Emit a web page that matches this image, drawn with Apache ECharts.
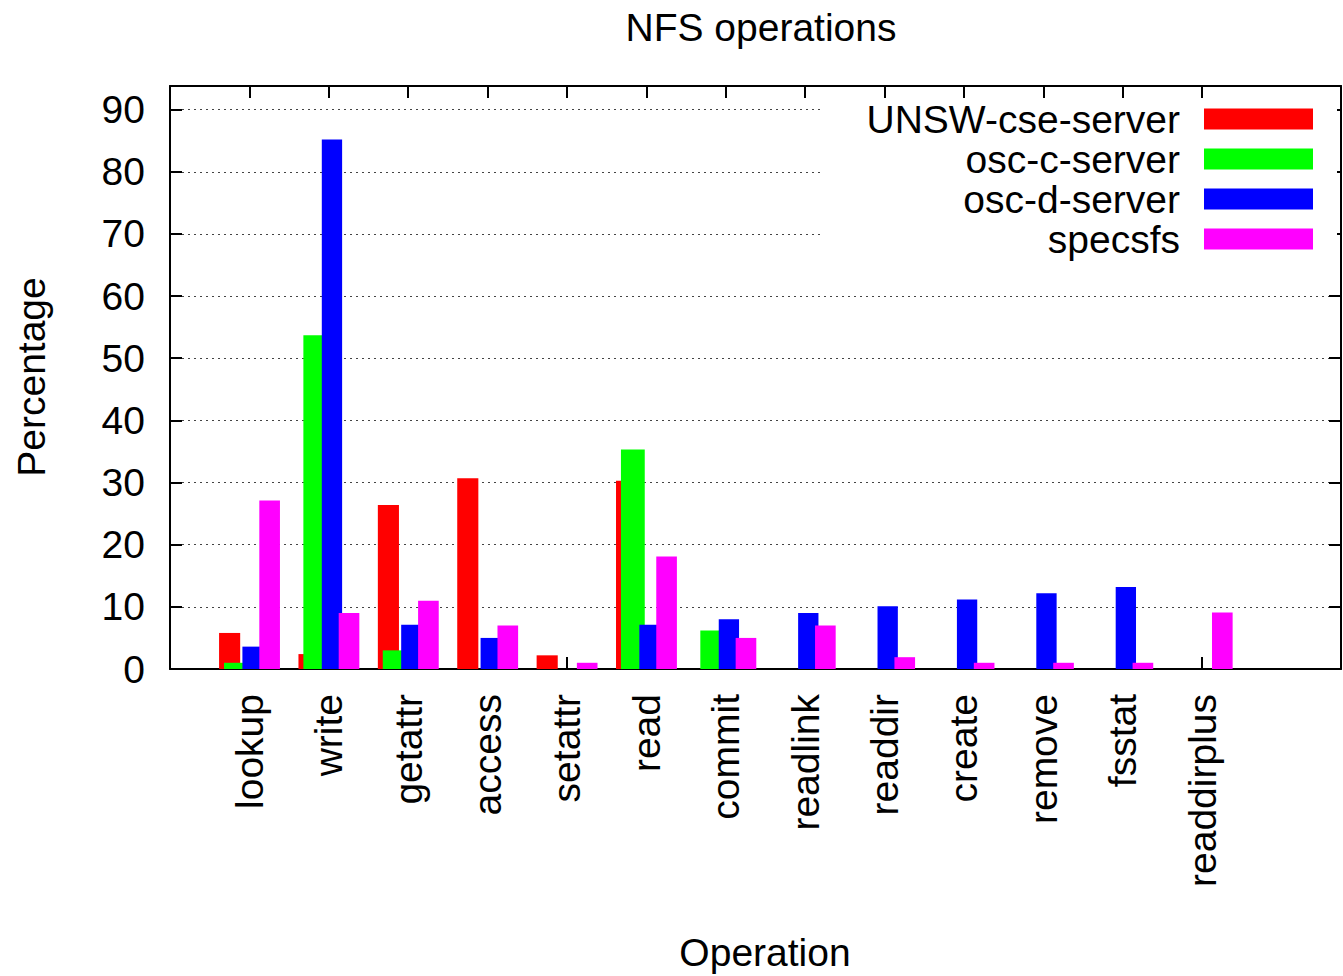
<!DOCTYPE html>
<html>
<head>
<meta charset="utf-8">
<title>NFS operations</title>
<script src="https://cdn.jsdelivr.net/npm/echarts@6/dist/echarts.min.js"></script>
<style>
  html, body { margin: 0; padding: 0; background: #ffffff; }
  #chart { width: 1343px; height: 976px; }
</style>
</head>
<body>
<div id="chart"></div>
<script>
// NFS operation mix (percentage of all calls) for each traced server
const categories = ['lookup', 'write', 'getattr', 'access', 'setattr', 'read', 'commit',
                    'readlink', 'readdir', 'create', 'remove', 'fsstat', 'readdirplus'];
const seriesNames = ['UNSW-cse-server', 'osc-c-server', 'osc-d-server', 'specsfs'];

const unswCseServer = [5.8, 2.4, 26.4, 30.7, 2.2, 30.3, null, null, null, null, null, null, null];
const oscCServer    = [1.0, 53.7, 3.0, null, null, 35.3, 6.2, null, null, null, null, null, null];
const oscDServer    = [3.6, 85.2, 7.1, 5.0, null, 7.1, 8.0, 9.0, 10.1, 11.2, 12.2, 13.2, null];
const specsfs       = [27.1, 9.0, 11.0, 7.0, 1.0, 18.1, 5.0, 7.0, 1.9, 1.0, 1.0, 1.0, 9.1];

const yTicks = [0, 10, 20, 30, 40, 50, 60, 70, 80, 90];
const xTicks = categories.map((_, i) => i);

const FONT = '"Liberation Sans", Arial, Helvetica, sans-serif';
const FONT_SIZE = 39;

// Where each series' box sits inside a category slot (centre offset and width, in category units)
const barSlots = [
  { color: '#ff0000', offset: -0.249, width: 0.266 },
  { color: '#00ff00', offset: -0.170, width: 0.300 },
  { color: '#0000ff', offset:  0.040, width: 0.256 },
  { color: '#ff00ff', offset:  0.255, width: 0.260 }
];
const seriesValues = [unswCseServer, oscCServer, oscDServer, specsfs];

function boxRenderer(slot) {
  return function (params, api) {
    const i = api.value(0);
    const v = api.value(1);
    const topLeft = api.coord([i + slot.offset - slot.width / 2, v]);
    const bottomRight = api.coord([i + slot.offset + slot.width / 2, 0]);
    return {
      type: 'rect',
      shape: {
        x: topLeft[0],
        y: topLeft[1],
        width: bottomRight[0] - topLeft[0],
        height: bottomRight[1] - topLeft[1]
      },
      style: { fill: slot.color }
    };
  };
}

const frameLine = { color: '#000000', width: 2 };
const xRange = { min: -1, max: 13.75, interval: 1 };
const yRange = { min: 0, max: 93.8, interval: 10 };

const chart = echarts.init(document.getElementById('chart'), null, { renderer: 'svg' });

chart.setOption({
  animation: false,
  backgroundColor: '#ffffff',
  textStyle: { fontFamily: FONT },
  grid: { left: 170, right: 2, top: 86, bottom: 307, containLabel: false, outerBoundsMode: 'none' },
  xAxis: [
    {
      type: 'value', position: 'bottom', ...xRange,
      axisLine: { show: true, onZero: false, lineStyle: frameLine },
      axisTick: { show: true, inside: true, length: 12, customValues: xTicks, lineStyle: frameLine },
      axisLabel: {
        customValues: xTicks,
        formatter: (v) => categories[v] ?? '',
        rotate: 90, margin: 25,
        fontSize: FONT_SIZE, fontFamily: FONT, color: '#000000'
      },
      splitLine: { show: false }
    },
    {
      type: 'value', position: 'top', ...xRange, z: 5,
      axisLine: { show: true, onZero: false, lineStyle: frameLine },
      axisTick: { show: true, inside: true, length: 12, customValues: xTicks, lineStyle: frameLine },
      axisLabel: { show: false },
      splitLine: { show: false }
    }
  ],
  yAxis: [
    {
      type: 'value', position: 'left', ...yRange,
      axisLine: { show: true, onZero: false, lineStyle: frameLine },
      axisTick: { show: true, inside: true, length: 12, customValues: yTicks, lineStyle: frameLine },
      axisLabel: {
        customValues: yTicks, margin: 25,
        fontSize: FONT_SIZE, fontFamily: FONT, color: '#000000'
      },
      splitLine: {
        show: true, showMinLine: false, showMaxLine: true,
        lineStyle: { color: '#444444', width: 1, type: [2, 4] }
      }
    },
    {
      type: 'value', position: 'right', ...yRange,
      axisLine: { show: true, onZero: false, lineStyle: frameLine },
      axisTick: { show: true, inside: true, length: 12, customValues: yTicks, lineStyle: frameLine },
      axisLabel: { show: false },
      splitLine: { show: false }
    }
  ],
  legend: {
    data: seriesNames,
    orient: 'vertical',
    align: 'right',
    right: 6,
    top: 89.5,
    padding: [10, 24, 6, 45],
    itemGap: 1,
    itemWidth: 109,
    itemHeight: 21,
    icon: 'rect',
    selectedMode: false,
    backgroundColor: '#ffffff',
    z: 4,
    textStyle: {
      fontSize: FONT_SIZE, fontFamily: FONT, color: '#000000',
      padding: [0, 19, 0, 0]
    }
  },
  graphic: [
    {
      type: 'text', x: 761, y: 27, silent: true,
      style: { text: 'NFS operations', fontSize: FONT_SIZE, fontFamily: FONT, fill: '#000000',
               align: 'center', verticalAlign: 'middle' }
    },
    {
      type: 'text', x: 765, y: 952, silent: true,
      style: { text: 'Operation', fontSize: FONT_SIZE, fontFamily: FONT, fill: '#000000',
               align: 'center', verticalAlign: 'middle' }
    },
    {
      type: 'text', x: 31, y: 377, rotation: Math.PI / 2, silent: true,
      style: { text: 'Percentage', fontSize: FONT_SIZE, fontFamily: FONT, fill: '#000000',
               align: 'center', verticalAlign: 'middle' }
    }
  ],
  series: seriesNames.map((name, k) => ({
    name: name,
    type: 'custom',
    coordinateSystem: 'cartesian2d',
    xAxisIndex: 0,
    yAxisIndex: 0,
    clip: true,
    itemStyle: { color: barSlots[k].color },
    encode: { x: 0, y: 1 },
    renderItem: boxRenderer(barSlots[k]),
    data: seriesValues[k]
      .map((v, i) => (v == null ? null : [i, v]))
      .filter((d) => d !== null)
  }))
});
</script>
</body>
</html>
